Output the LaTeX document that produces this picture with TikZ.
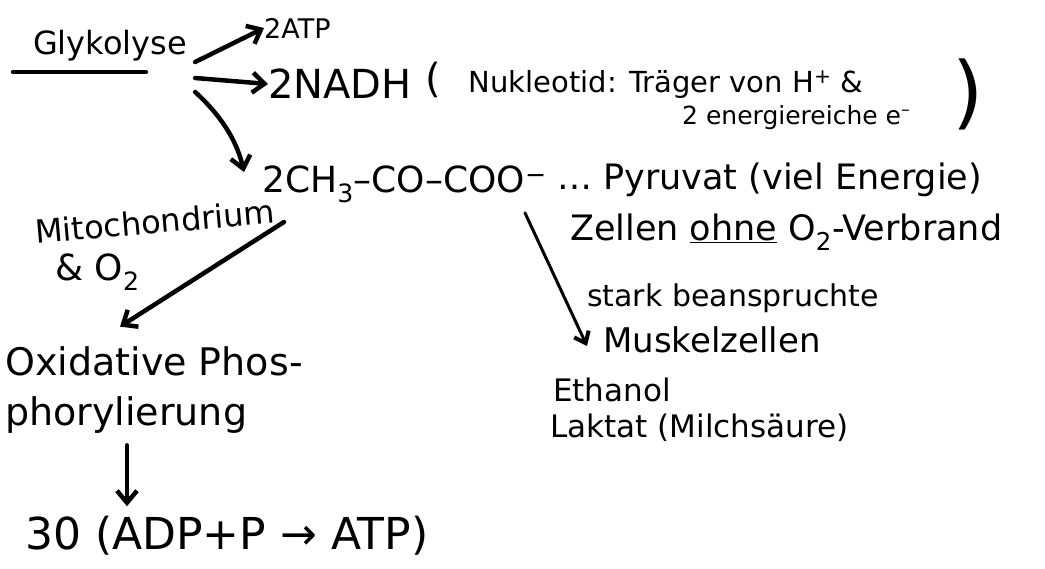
\documentclass[tikz,border=0pt]{standalone}
\usepackage{fontspec}
\setmainfont{DejaVu Sans}
\usetikzlibrary{arrows.meta}
\newcommand{\fs}[1]{\fontsize{#1}{1.2\dimexpr#1pt\relax}\selectfont}
\begin{document}
\begin{tikzpicture}[x=1pt,y=-1pt,
  hand/.style={line width=4.5pt, line cap=round, line join=round},
  pen/.style={hand, -{Straight Barb[length=12pt,width=20pt,line width=4.5pt]}},
  thinpen/.style={line width=3pt, line cap=round, -{Straight Barb[length=10pt,width=16pt,line width=4pt]}},
  txt/.style={inner sep=0pt, anchor=west, align=left}]
\useasboundingbox[fill=white] (0,0) rectangle (1045,569);

% Glycolysis and its direct products
\node[txt, font=\fs{32}] (gly) at (33,46) {Glykolyse};
\draw[hand] ([shift={(-20,26)}]gly.west) -- ([shift={(113,26)}]gly.west);
\node[txt, font=\fs{27}] (atp) at (264,28) {2ATP};
\node[txt, font=\fs{40}] (nadh) at (268,84) {2NADH};
\node[txt, font=\fs{29}] (nuk) at (425,80) {{\fs{40}(}\hspace{28pt}Nukleotid: Träger von H\textsuperscript{+} \&};
\node[txt, font=\fs{25}] (ener) at (682,118) {2 energiereiche e\textsuperscript{–}};
\node[inner sep=0pt, font=\fs{80}] (rp) at (968,94) {)};

\draw[pen] ([shift={(8,16)}]gly.east) -- (atp.west);
\draw[pen] ([shift={(8,32)}]gly.east) -- (nadh.west);

% Pyruvate
\node[txt, font=\fs{36}] (ch) at (262,184) {2CH\textsubscript{3}–CO–COO\textsuperscript{−}};
\node[txt, font=\fs{35}] (pyr) at (557,180) {… Pyruvat (viel Energie)};
\draw[pen] ([shift={(8,46)}]gly.east) .. controls +(22,20) and +(-8,-35) .. ([shift={(-18,-12)}]ch.west);

% Aerobic branch
\node[txt, font=\fs{32}, rotate=5] (mito) at (35,232) {Mitochondrium};
\node[txt, font=\fs{36}] (o2) at (55,272) {\& O\textsubscript{2}};
\node[txt, font=\fs{38}] (ox) at (5,390) {Oxidative Phos-\\[4pt]phorylierung};
\draw[pen] ([shift={(22,38)}]ch.west) -- ([shift={(115,-20)}]ox.north west);
\node[txt, font=\fs{44}] (atp30) at (25,536) {30 (ADP+P → ATP)};
\draw[pen] ([shift={(122,12)}]ox.south west) -- ([shift={(0,-10)}]atp30.north west -| {(127,0)});

% Anaerobic branch
\node[txt, font=\fs{35}] (zel) at (570,232) {Zellen \underline{ohne} O\textsubscript{2}-Verbrand};
\node[txt, font=\fs{30}] (stark) at (587,298) {stark beanspruchte};
\node[txt, font=\fs{34}] (mus) at (603,340) {Muskelzellen};
\node[txt, font=\fs{31}] (eth) at (553,390) {Ethanol};
\node[txt, font=\fs{31}] (lak) at (550,428) {Laktat (Milchsäure)};
\draw[thinpen] ([shift={(-22,10)}]ch.south east) -- ([shift={(-16,6)}]mus.west);
\end{tikzpicture}
\end{document}
